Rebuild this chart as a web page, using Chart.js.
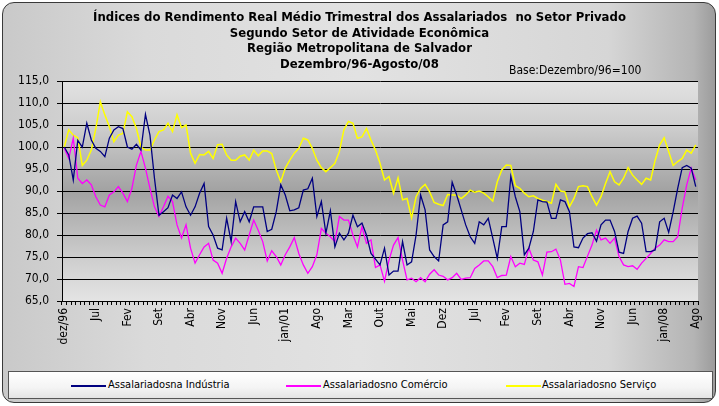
<!DOCTYPE html>
<html>
<head>
<meta charset="utf-8">
<script src="https://cdn.jsdelivr.net/npm/chart.js@4"></script>
<style>
  html, body { margin: 0; padding: 0; }
  body { width: 719px; height: 406px; position: relative; overflow: hidden; background: #fff; font-family: 'Liberation Sans Narrow', 'DejaVu Sans Condensed', 'Liberation Sans', sans-serif; }
  #frame {
    position: absolute; left: 2px; top: 2px; width: 712px; height: 399px;
    border: 1px solid #3a3a3a; border-radius: 12px;
    background: linear-gradient(to right, #c9c9c9 0%, #dadada 20%, #e2e2e2 50%, #d6d6d6 85%, #b4b4b4 97%, #9c9c9c 100%);
  }
  #wrap { position: absolute; left: 0; top: 0; width: 719px; height: 406px; }
  .title { position: absolute; left: 0; width: 719px; text-align: center; font-weight: bold; font-size: 13px; color: #000; }
  #base { position: absolute; left: 509px; top: 63px; font-size: 12px; color: #000; }
  #legend {
    position: absolute; left: 8px; top: 371px; width: 703px; height: 26px;
    border: 1px solid #555; background: linear-gradient(to bottom, #ffffff 0%, #f4f4f4 60%, #e4e4e4 100%);
  }
  .item { position: absolute; top: 6px; font-size: 11px; color: #000; white-space: nowrap; }
  .sw { position: absolute; top: 13px; width: 35px; height: 1.5px; }
</style>
</head>
<body>
<div id="frame"></div>
<div id="wrap"><canvas id="chart" width="719" height="406"></canvas></div>
<div class="title" style="top:9px">Índices do Rendimento Real Médio Trimestral dos Assalariados&nbsp; no Setor Privado</div>
<div class="title" style="top:25px">Segundo Setor de Atividade Econômica</div>
<div class="title" style="top:40px">Região Metropolitana de Salvador</div>
<div class="title" style="top:56px">Dezembro/96-Agosto/08</div>
<div id="base">Base:Dezembro/96=100</div>
<div id="legend">
  <div class="sw" style="left:62px; background:#000080"></div>
  <div class="item" style="left:99px">Assalariadosna Indústria</div>
  <div class="sw" style="left:277px; background:#ff00ff"></div>
  <div class="item" style="left:314px">Assalariadosno Comércio</div>
  <div class="sw" style="left:497px; background:#ffff00"></div>
  <div class="item" style="left:533px">Assalariadosno Serviço</div>
</div>
<script>
// mensal, dez/96 a ago/08
const monthNames = ['jan', 'fev', 'mar', 'abr', 'mai', 'jun', 'jul', 'ago', 'set', 'out', 'nov', 'dez'];
const tickLabels = ['dez/96', 'Jul', 'Fev', 'Set', 'Abr', 'Nov', 'Jun', 'jan/01', 'Ago', 'Mar', 'Out',
    'Mai', 'Dez', 'Jul', 'Fev', 'Set', 'Abr', 'Nov', 'Jun', 'jan/08', 'Ago'];

const industria = [
    100, 98.2, 92.5, 101.5, 100, 105.4, 101.6, 99.7, 99, 97.8, 102, 103.9, 104.6, 104.2, 100, 99.5, 100.6, 99.3, 107.4, 102.7, 92.9, 84.5, 85.3, 86.2,
    89.1, 88.3, 89.8, 86.4, 84.5, 86.4, 89.5, 91.7, 81.9, 80, 77, 76.6, 83.8, 78.5, 87.6, 83, 85.3, 83, 86.4, 86.4, 86.4, 80.8, 81.3,
    85.3, 91.4, 89.1, 85.5, 85.7, 86.2, 90.2, 90.5, 92.9, 84.2, 87.6, 80.4, 85.5, 77.3, 80.4, 78.9, 80.4, 84.5, 81.9, 82.7, 80, 75.8, 74.5,
    73.2, 77, 70.9, 71.8, 71.8, 78.5, 73.2, 73.9, 80, 89.1, 85.7, 76.6, 75.1, 74.1, 82.3, 83, 92, 89.1, 85.7, 82.3, 79.6, 78.1, 83,
    82.3, 83.8, 79.3, 74.7, 81.9, 81.9, 93.3, 88.7, 85.3, 75.5, 77, 80.8, 88, 87.6, 87.5, 83.8, 83.8, 88, 87.6, 85.3, 77.3, 77.1, 79.3,
    80.3, 80.5, 78.6, 82.3, 83.4, 83.4, 80.8, 76.1, 75.8, 80.8, 83.8, 84.3, 82.7, 76.2, 76.2, 76.6, 83, 83.8, 80.6, 85.3, 90.6, 95.3, 95.8, 95.2, 91
];

const comercio = [
    99.7, 97.4, 102, 92.9, 91.7, 92.5, 91.4, 88.7, 86.8, 86.4, 89.1, 89.8, 91, 89.5, 87.6, 90.6, 95.9, 99, 95.2, 90.6, 86.4, 84.2, 86.4, 88.8,
    87.6, 82.3, 79.3, 82.3, 77, 73.6, 75.5, 77.3, 78.1, 74.3, 73.6, 71.3, 74.7, 77.3, 79.3, 78.1, 76.6, 80, 83.4, 81.1, 78.5, 74.1, 76.4,
    75.1, 73.2, 75.5, 77.3, 79.4, 75.8, 73.2, 71.3, 72.8, 75.5, 81.5, 80.4, 79.6, 78.5, 84.2, 83.4, 83.4, 80, 77.3, 81.9, 78.1, 78.9, 72.6,
    73.2, 69.5, 74.3, 77.7, 79.4, 74.3, 69.8, 70.2, 69.4, 70.3, 69.4, 71.1, 72.1, 70.9, 70.6, 69.8, 70.3, 71.3, 69.9, 70.2, 70.3, 72.4, 73.2,
    74.1, 74.1, 72.8, 70.3, 70.8, 70.9, 75.1, 72.8, 73.6, 73.3, 77, 74.3, 73.9, 70.9, 76.1, 76.2, 76.8, 74.3, 68.8, 69, 68.3, 72.8, 72.6,
    75.2, 77.7, 81.1, 78.9, 79.3, 78.1, 79.3, 75.1, 73.2, 72.8, 73, 72.2, 73.6, 74.7, 75.8, 77, 77.7, 78.9, 78.5, 78.5, 79.6, 86.1, 91.4, 95.2, 92.5
];

const servico = [
    100, 103.9, 102.7, 102.1, 95.8, 97, 99.3, 104.2, 110.3, 107.3, 104.6, 101.2, 102.7, 103.1, 108, 106.9, 104.2, 100, 99.3, 99.3, 101.6, 103.5, 103.9, 105.4,
    103.5, 107.3, 104.4, 105, 98.6, 96.3, 98.3, 98.2, 99, 97.4, 100.5, 100.6, 98.2, 97, 97, 97.9, 98.2, 97, 99.3, 98, 99.1, 99.1, 98.5,
    94.8, 92.1, 95.2, 97, 98.6, 99.7, 102, 101.6, 99.7, 97, 95.3, 94.4, 95.3, 96.3, 99, 103.9, 105.8, 105.4, 102, 102.3, 104.2, 101.6, 99.3,
    96.3, 92.5, 93.3, 89.5, 93, 88, 88.3, 83.9, 88.7, 90.6, 91.5, 89.8, 87.4, 87, 86.7, 89.2, 89.1, 89.1, 88.3, 89.1, 90.2, 89.7, 90,
    89.5, 88.7, 87.7, 92.1, 94.8, 95.9, 95.8, 91.2, 90.6, 89.5, 88.7, 88.9, 88.3, 87.9, 87.6, 87.2, 91.5, 90, 89.8, 86.4, 88.3, 91, 91.2,
    91, 88.7, 86.8, 88.7, 91.7, 94.4, 92.1, 91.4, 92.9, 95.3, 93.6, 92.5, 91.5, 92.9, 92.5, 97, 100.5, 102.1, 99, 95.8, 96.7, 97.4, 99.3, 98.6, 100.5
];

// categorias: um rótulo por mês
const categories = [];
for (let i = 0; i < industria.length; i++) {
    const m = (11 + i) % 12;
    const y = 96 + Math.floor((11 + i) / 12);
    categories.push(monthNames[m] + '/' + String(y % 100).padStart(2, '0'));
}

const axisFont = "'Liberation Sans Narrow', 'DejaVu Sans Condensed', 'Liberation Sans', sans-serif";

const plotBackground = {
    id: 'plotBackground',
    beforeDraw(chart) {
        const { ctx, chartArea: a } = chart;
        const g = ctx.createLinearGradient(0, a.top, 0, a.bottom);
        g.addColorStop(0, '#e2e2e2');
        g.addColorStop(0.2, '#cfcfcf');
        g.addColorStop(0.5, '#a2a2a2');
        g.addColorStop(0.8, '#cdcdcd');
        g.addColorStop(1, '#e4e4e4');
        ctx.save();
        ctx.fillStyle = g;
        ctx.fillRect(a.left, a.top, a.right - a.left, a.bottom - a.top);
        ctx.restore();
    }
};

const ctx = document.getElementById('chart').getContext('2d');

new Chart(ctx, {
    type: 'line',
    data: {
        labels: categories,
        datasets: [
            { label: 'Assalariadosna Indústria', data: industria, borderColor: '#000080', borderWidth: 1.3 },
            { label: 'Assalariadosno Comércio', data: comercio, borderColor: '#ff00ff', borderWidth: 1.3 },
            { label: 'Assalariadosno Serviço', data: servico, borderColor: '#ffff00', borderWidth: 1.5 }
        ]
    },
    options: {
        responsive: false,
        animation: false,
        events: [],
        elements: { point: { radius: 0 }, line: { tension: 0 } },
        layout: { padding: { top: 81, right: 21, left: 0, bottom: 0 } },
        plugins: { legend: { display: false }, title: { display: false }, tooltip: { enabled: false } },
        scales: {
            x: {
                offset: true,
                afterFit(scale) { scale.height = 105; },
                grid: { offset: true, drawOnChartArea: false, drawTicks: true, tickLength: 4, color: '#000' },
                border: { display: true, color: '#000', width: 1 },
                ticks: {
                    autoSkip: false,
                    minRotation: 90,
                    maxRotation: 90,
                    padding: 3,
                    color: '#000',
                    font: { family: axisFont, size: 12 },
                    callback(value, index) {
                        return index % 7 === 0 ? tickLabels[index / 7] : '';
                    }
                }
            },
            y: {
                min: 65,
                max: 115,
                afterFit(scale) { scale.width = 62; },
                grid: { color: '#000', lineWidth: 1, drawTicks: true, tickLength: 5 },
                border: { display: true, color: '#000', width: 1 },
                ticks: {
                    stepSize: 5,
                    padding: 8,
                    color: '#000',
                    font: { family: axisFont, size: 12 },
                    callback(v) { return v.toFixed(1).replace('.', ','); }
                }
            }
        }
    },
    plugins: [plotBackground]
});
</script>
</body>
</html>
